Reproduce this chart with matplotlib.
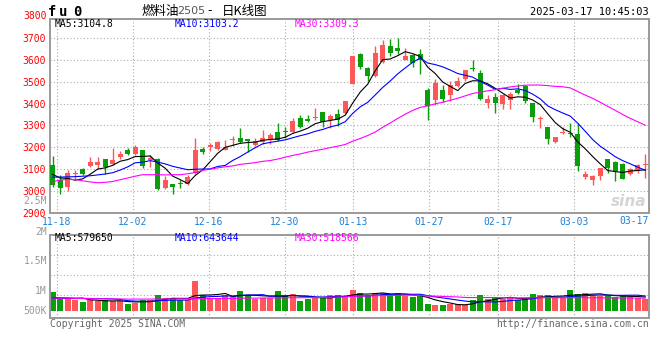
import matplotlib
matplotlib.use("Agg")
import matplotlib.pyplot as plt
import matplotlib.transforms as mtransforms
import numpy as np
import pandas as pd

plt.rcParams["font.family"] = ["DejaVu Sans", "Noto Sans CJK SC"]

W, H = 660, 360
MONO = "DejaVu Sans Mono"
CJK = ["Noto Sans CJK SC", "DejaVu Sans"]
RED = "#ff5757"
GREEN = "#0a9e0a"
GRID = "#aaaaaa"
BORDER = "#9a9a9a"

# daily candles, first one is 11-15, last one is today
opens = [3117, 3052, 3018, 3080, 3099, 3114, 3117, 3145, 3122, 3155,
         3189, 3168, 3186, 3140, 3148, 3016, 3034, 3035, 3034, 3082,
         3194, 3201, 3192, 3190, 3232, 3242, 3236, 3212, 3224, 3239,
         3269, 3270, 3269, 3335, 3331, 3336, 3359, 3323, 3353, 3356,
         3490, 3624, 3563, 3525, 3589, 3661, 3655, 3601, 3623, 3627,
         3464, 3414, 3460, 3437, 3479, 3510, 3563, 3539, 3402, 3429,
         3396, 3417, 3463, 3479, 3404, 3331, 3292, 3226, 3266, 3262,
         3259, 3064, 3052, 3067, 3146, 3131, 3122, 3079, 3090, 3118]
highs = [3162, 3072, 3098, 3095, 3107, 3158, 3158, 3148, 3196, 3181,
         3195, 3210, 3189, 3163, 3152, 3067, 3034, 3049, 3072, 3244,
         3201, 3219, 3231, 3235, 3250, 3288, 3236, 3242, 3277, 3265,
         3310, 3292, 3335, 3346, 3349, 3381, 3359, 3353, 3373, 3410,
         3615, 3630, 3569, 3662, 3688, 3696, 3700, 3655, 3624, 3647,
         3470, 3513, 3483, 3505, 3521, 3554, 3597, 3551, 3441, 3447,
         3445, 3452, 3487, 3483, 3404, 3342, 3292, 3248, 3292, 3311,
         3312, 3094, 3072, 3107, 3148, 3136, 3128, 3107, 3122, 3171]
lows = [3018, 2988, 3000, 3057, 3072, 3110, 3102, 3076, 3117, 3146,
        3163, 3163, 3107, 3110, 3003, 3011, 2985, 3015, 3030, 3079,
        3171, 3183, 3189, 3186, 3208, 3219, 3178, 3208, 3216, 3216,
        3231, 3244, 3267, 3289, 3315, 3326, 3292, 3289, 3297, 3353,
        3487, 3559, 3502, 3521, 3586, 3616, 3624, 3597, 3566, 3536,
        3327, 3391, 3406, 3410, 3475, 3505, 3548, 3414, 3379, 3356,
        3376, 3376, 3442, 3402, 3315, 3288, 3216, 3219, 3259, 3246,
        3091, 3057, 3030, 3049, 3084, 3046, 3053, 3072, 3084, 3061]
closes = [3026, 3014, 3082, 3082, 3076, 3131, 3132, 3110, 3140, 3169,
          3169, 3201, 3113, 3151, 3008, 3049, 3021, 3032, 3064, 3190,
          3178, 3209, 3222, 3201, 3235, 3224, 3228, 3231, 3242, 3254,
          3235, 3268, 3318, 3295, 3320, 3338, 3315, 3345, 3326, 3410,
          3615, 3566, 3524, 3632, 3665, 3630, 3642, 3615, 3586, 3601,
          3387, 3495, 3422, 3486, 3505, 3551, 3556, 3419, 3419, 3402,
          3440, 3445, 3447, 3410, 3338, 3335, 3236, 3245, 3270, 3259,
          3113, 3079, 3067, 3105, 3105, 3091, 3057, 3099, 3119, 3120]
# volume, thousand lots
volumes = [789, 510, 552, 444, 374, 444, 415, 444, 415, 415,
           278, 332, 469, 444, 652, 540, 540, 444, 444, 1233,
           652, 552, 552, 652, 610, 830, 652, 510, 552, 552,
           830, 610, 693, 415, 510, 581, 552, 652, 652, 610,
           859, 747, 652, 747, 747, 652, 747, 610, 581, 610,
           278, 237, 237, 303, 278, 237, 444, 652, 510, 581,
           510, 581, 444, 510, 693, 652, 652, 552, 552, 859,
           693, 747, 652, 610, 610, 581, 652, 610, 552, 510]

# moving averages before enough days are in view
ma5_head = [3076, 3060, 3058, 3050]
ma10_head = [3064, 3064, 3065, 3066, 3068, 3070, 3074, 3078, 3084]
ma30_head = [3042, 3051, 3053, 3053, 3047, 3042, 3038, 3040, 3044, 3052,
             3060, 3068, 3075, 3075, 3075, 3074, 3075, 3075, 3079, 3085,
             3095, 3100, 3106, 3111, 3115, 3122, 3126, 3130, 3136]
vol_ma5_head = [560, 540, 530, 520]
vol_ma10_head = [540, 535, 535, 530, 525, 520, 515, 510, 500]
vol_ma30_head = [540, 535, 530, 525, 520, 515, 510, 505, 500, 500,
                 495, 495, 495, 495, 500, 500, 500, 505, 505, 510,
                 515, 515, 520, 525, 525, 530, 535, 535, 540]

date_labels = ["11-18", "12-02", "12-16", "12-30", "01-13", "01-27", "02-17", "03-03"]
date_index = [1, 11, 21, 31, 40, 50, 59, 69]
price_ticks = [2900, 3000, 3100, 3200, 3300, 3400, 3500, 3600, 3700]


def moving_avg(values, n, head):
    s = pd.Series(values, dtype=float).rolling(n).mean()
    s.iloc[:n - 1] = head
    return s.values


def px_box(left, top, right, bottom):
    return [left / W, 1 - bottom / H, (right - left) / W, (bottom - top) / H]


fig = plt.figure(figsize=(W / 100, H / 100), dpi=100)
fig.patch.set_facecolor("white")


def ftext(x, y, s, **kw):
    kw.setdefault("va", "center")
    kw.setdefault("fontsize", 7)
    kw.setdefault("family", MONO)
    fig.text(x / W, 1 - y / H, s, **kw)


o = np.array(opens, float)
c = np.array(closes, float)
x = np.arange(len(closes))
colors = np.where(c >= o, RED, GREEN)
grid_pos = np.array(date_index) * 1.013 - 0.44
xlim = (-0.36, 79.5)

# ---- price panel
ax = fig.add_axes(px_box(50, 19, 649, 213))
ax.vlines(x, lows, highs, colors=colors, lw=1, zorder=2)
ax.bar(x, np.maximum(np.abs(c - o), 4.5), bottom=np.minimum(o, c), width=0.72,
       color=colors, linewidth=0, zorder=3)
ax.plot(x, moving_avg(closes, 5, ma5_head), color="black", lw=0.8, zorder=4)
ax.plot(x, moving_avg(closes, 10, ma10_head), color="#0000ff", lw=0.8, zorder=4)
ax.plot(x, moving_avg(closes, 30, ma30_head), color="#ff00ff", lw=0.8, zorder=4)
ax.set_xlim(*xlim)
ax.set_ylim(2900, 3786)
ax.set_yticks(price_ticks)
ax.set_yticklabels([str(t) for t in price_ticks], family=MONO, color="#ff0000", fontsize=7)
ax.set_xticks(grid_pos)
ax.set_xticklabels(date_labels, family=MONO, color="#1a80d9", fontsize=7)
ax.tick_params(length=0, pad=3)
ax.tick_params(axis="x", pad=3)
ax.grid(True, color=GRID, linestyle=(0, (1, 2)), lw=0.8)
ax.set_axisbelow(True)
for sp in ax.spines.values():
    sp.set_color(BORDER)
    sp.set_linewidth(1.4)
trans = mtransforms.blended_transform_factory(ax.transAxes, ax.transData)
ax.text(-0.006, 3800, "3800", transform=trans, ha="right", va="center",
        family=MONO, fontsize=7, color="#ff0000", clip_on=False)
ax.text(0.995, 0.06, "sina", transform=ax.transAxes, ha="right", va="center",
        fontsize=11, style="italic", weight="bold", color="#d4d4d4", zorder=1)

# ---- volume panel
axv = fig.add_axes(px_box(50, 235, 649, 318))
axv.bar(x, volumes, width=0.75, color=colors, linewidth=0, zorder=2)
axv.plot(x, moving_avg(volumes, 5, vol_ma5_head), color="black", lw=0.8, zorder=3)
axv.plot(x, moving_avg(volumes, 10, vol_ma10_head), color="#0000ff", lw=0.8, zorder=3)
axv.plot(x, moving_avg(volumes, 30, vol_ma30_head), color="#ff00ff", lw=0.8, zorder=3)
axv.set_xlim(*xlim)
axv.set_ylim(-290, 3155)
axv.set_yticks([664, 1494, 2324])
axv.set_xticks(grid_pos)
axv.set_xticklabels([])
axv.set_yticklabels([])
axv.tick_params(length=0)
axv.grid(True, color=GRID, linestyle=(0, (1, 2)), lw=0.8)
axv.set_axisbelow(True)
for sp in axv.spines.values():
    sp.set_color(BORDER)
    sp.set_linewidth(1.4)

# ---- texts
for ch, cx in zip("fu0", [52, 63, 77]):
    ftext(cx, 12, ch, ha="center", fontsize=10, weight="bold", color="black")
ftext(141, 11, "燃料油", family=CJK, fontsize=9, color="black")
ftext(177, 11, "2505", family="DejaVu Sans", fontsize=8, color="#555555")
ftext(207, 11, "-", family="DejaVu Sans", fontsize=9, color="black")
ftext(222, 11, "日K线图", family=CJK, fontsize=9, color="black")
ftext(649, 12, "2025-03-17 10:45:03", ha="right", fontsize=7.5, color="black")

ftext(55, 24, "MA5:3104.8", color="black")
ftext(175, 24, "MA10:3103.2", color="#0000ff")
ftext(295, 24, "MA30:3309.3", color="#ff00ff")
ftext(55, 238, "MA5:579650", color="black")
ftext(175, 238, "MA10:643644", color="#0000ff")
ftext(295, 238, "MA30:518566", color="#ff00ff")

ftext(649, 221, "03-17", ha="right", color="#1a80d9")
for lbl, ly in [("2.5M", 201), ("2M", 232), ("1.5M", 261), ("1M", 291), ("500K", 311)]:
    ftext(47, ly, lbl, ha="right", color="#999999")

ftext(50, 324, "Copyright 2025 SINA.COM", color="#666666")
ftext(649, 324, "http://finance.sina.com.cn", ha="right", color="#666666")

fig.savefig("out.png", dpi=100, facecolor="white")
